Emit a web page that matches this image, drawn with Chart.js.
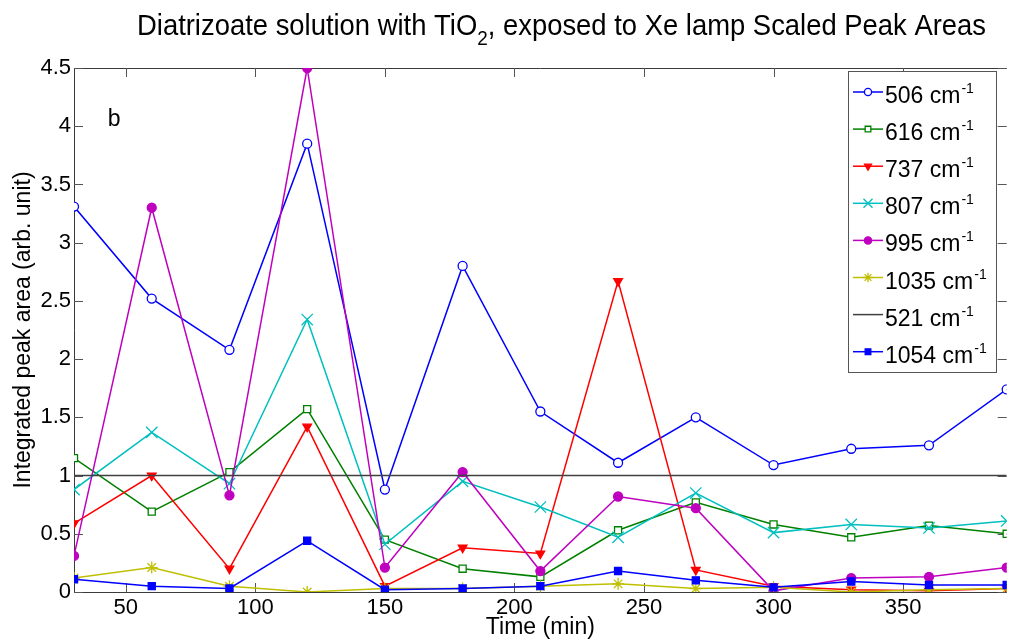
<!DOCTYPE html>
<html>
<head>
<meta charset="utf-8">
<title>Scaled Peak Areas</title>
<script src="https://cdn.jsdelivr.net/npm/chart.js@4.4.1/dist/chart.umd.min.js"></script>
<style>
  html, body { margin: 0; padding: 0; background: #fff; }
  #wrap { width: 1016px; height: 643px; }
</style>
</head>
<body>
<div id="wrap"><canvas id="chart" width="1016" height="643"></canvas></div>
<script>
// ---- data ----
const TIMES   = [30, 60, 90, 120, 150, 180, 210, 240, 270, 300, 330, 360, 390];
const X_TICKS = [50, 100, 150, 200, 250, 300, 350];
const Y_TICKS = [0, 0.5, 1, 1.5, 2, 2.5, 3, 3.5, 4, 4.5];

const PEAK_506  = [3.31, 2.52, 2.08, 3.85, 0.88, 2.80, 1.55, 1.11, 1.50, 1.09, 1.23, 1.26, 1.74];
const PEAK_616  = [1.15, 0.69, 1.03, 1.57, 0.45, 0.20, 0.13, 0.53, 0.77, 0.58, 0.47, 0.57, 0.50];
const PEAK_737  = [0.59, 1.00, 0.20, 1.42, 0.05, 0.38, 0.33, 2.67, 0.19, 0.05, 0.02, 0.01, 0.03];
const PEAK_807  = [0.88, 1.37, 0.93, 2.34, 0.41, 0.95, 0.73, 0.47, 0.85, 0.51, 0.58, 0.55, 0.61];
const PEAK_995  = [0.31, 3.30, 0.83, 4.50, 0.21, 1.03, 0.18, 0.82, 0.72, 0.01, 0.12, 0.13, 0.21];
const PEAK_1035 = [0.12, 0.21, 0.05, 0.00, 0.03, 0.03, 0.05, 0.07, 0.03, 0.04, 0.00, 0.02, 0.03];
const PEAK_521  = [1, 1, 1, 1, 1, 1, 1, 1, 1, 1, 1, 1, 1];
const PEAK_1054 = [0.11, 0.05, 0.03, 0.44, 0.02, 0.03, 0.05, 0.18, 0.10, 0.04, 0.09, 0.06, 0.06];

const FONT = '"Liberation Sans", Arial, Helvetica, sans-serif';

// MATLAB-ish line specs
const SERIES = [
  { label: '506',  data: PEAK_506,  color: '#0000ff', style: 'circle',   radius: 4.5, fill: '#ffffff' },
  { label: '616',  data: PEAK_616,  color: '#008000', style: 'rect',     radius: 5,   fill: '#ffffff' },
  { label: '737',  data: PEAK_737,  color: '#ff0000', style: 'triangle', radius: 5,   fill: '#ff0000', rotation: 180 },
  { label: '807',  data: PEAK_807,  color: '#00bfbf', style: 'crossRot', radius: 8,   fill: '#00bfbf' },
  { label: '995',  data: PEAK_995,  color: '#bf00bf', style: 'circle',   radius: 4.5, fill: '#bf00bf' },
  { label: '1035', data: PEAK_1035, color: '#bfbf00', style: 'star',     radius: 6,   fill: '#bfbf00' },
  { label: '521',  data: PEAK_521,  color: '#404040', style: false,      radius: 0,   fill: '#404040' },
  { label: '1054', data: PEAK_1054, color: '#0000ff', style: 'rect',     radius: 5,   fill: '#0000ff' },
];

const B_LABEL = { x: 43, y: 4.0 };

// ---- plugin: axes box, inside ticks, title, panel letter, legend ----
const matlabDecor = {
  id: 'matlabDecor',

  beforeDatasetsDraw(chart) {
    const { ctx, chartArea: a, scales: { x, y } } = chart;
    ctx.save();
    ctx.strokeStyle = '#3a3a3a';
    ctx.lineWidth = 1;
    ctx.beginPath();
    ctx.moveTo(a.left + 0.5, a.top + 0.5);
    ctx.lineTo(a.right, a.top + 0.5);
    ctx.moveTo(a.left + 0.5, a.top);
    ctx.lineTo(a.left + 0.5, a.bottom + 0.5);
    ctx.lineTo(a.right, a.bottom + 0.5);
    ctx.stroke();

    ctx.strokeStyle = '#555';
    ctx.beginPath();
    for (const v of X_TICKS) {
      const px = Math.round(x.getPixelForValue(v)) + 0.5;
      ctx.moveTo(px, a.bottom); ctx.lineTo(px, a.bottom - 9);
      ctx.moveTo(px, a.top);    ctx.lineTo(px, a.top + 9);
    }
    for (const v of Y_TICKS) {
      const py = Math.round(y.getPixelForValue(v)) + 0.5;
      ctx.moveTo(a.left, py);  ctx.lineTo(a.left + 9, py);
      ctx.moveTo(a.right, py); ctx.lineTo(a.right - 9, py);
    }
    ctx.stroke();
    ctx.restore();
  },

  afterDraw(chart) {
    const { ctx, scales: { x, y } } = chart;
    ctx.save();
    ctx.fillStyle = '#000';
    ctx.textBaseline = 'alphabetic';
    ctx.textAlign = 'left';

    // title with subscript, squeezed to the reference width
    const parts = [
      { t: 'Diatrizoate solution with TiO', size: 29, dy: 0 },
      { t: '2', size: 20, dy: 10 },
      { t: ', exposed to Xe lamp Scaled Peak Areas', size: 29, dy: 0 },
    ];
    let total = 0;
    for (const p of parts) { ctx.font = `${p.size}px ${FONT}`; p.w = ctx.measureText(p.t).width; total += p.w; }
    ctx.save();
    ctx.translate(137, 35);
    ctx.scale(849 / total, 1);
    let cx = 0;
    for (const p of parts) {
      ctx.font = `${p.size}px ${FONT}`;
      ctx.fillText(p.t, cx, p.dy);
      cx += p.w;
    }
    ctx.restore();

    // panel letter
    ctx.font = `23px ${FONT}`;
    ctx.fillText('b', x.getPixelForValue(B_LABEL.x), y.getPixelForValue(B_LABEL.y));

    // legend
    const L = { left: 848, top: 71, right: 996, bottom: 372, row0: 92, gap: 37.1 };
    ctx.fillStyle = '#fff';
    ctx.fillRect(L.left, L.top, L.right - L.left, L.bottom - L.top);
    ctx.strokeStyle = '#555';
    ctx.lineWidth = 1;
    ctx.strokeRect(L.left + 0.5, L.top + 0.5, L.right - L.left, L.bottom - L.top);

    SERIES.forEach((s, i) => {
      const ry = L.row0 + i * L.gap;
      ctx.strokeStyle = s.color;
      ctx.lineWidth = 1.5;
      ctx.beginPath();
      ctx.moveTo(853, ry); ctx.lineTo(883, ry);
      ctx.stroke();
      if (s.style) {
        ctx.fillStyle = s.fill;
        ctx.strokeStyle = s.color;
        ctx.lineWidth = 1.3;
        Chart.helpers.drawPoint(ctx, {
          pointStyle: s.style, radius: s.radius * 0.8, rotation: s.rotation || 0, borderWidth: 1.3,
        }, 868, ry);
      }
      ctx.fillStyle = '#000';
      ctx.font = `23px ${FONT}`;
      const main = `${s.label} cm`;
      ctx.fillText(main, 885, ry + 11);
      const w = ctx.measureText(main).width;
      ctx.font = `14px ${FONT}`;
      ctx.fillText('-1', 885 + w + 1, ry + 1);
    });
    ctx.restore();
  },
};

const datasets = SERIES.map((s, i) => ({
  label: s.label,
  data: TIMES.map((t, k) => ({ x: t, y: s.data[k] })),
  borderColor: s.color,
  borderWidth: 1.5,
  backgroundColor: s.fill,
  pointStyle: s.style,
  pointRadius: s.radius,
  pointRotation: s.rotation || 0,
  pointBorderColor: s.color,
  pointBackgroundColor: s.fill,
  pointBorderWidth: 1.3,
  tension: 0,
  fill: false,
  order: SERIES.length - i,
}));

new Chart(document.getElementById('chart'), {
  type: 'line',
  data: { datasets },
  options: {
    responsive: false,
    devicePixelRatio: 1,
    animation: false,
    events: [],
    layout: { padding: { top: 68, right: 0, bottom: 0, left: 0 } },
    plugins: { legend: { display: false }, tooltip: { enabled: false }, title: { display: false } },
    scales: {
      x: {
        type: 'linear',
        min: 30,
        max: 390,
        afterBuildTicks: s => { s.ticks = X_TICKS.map(v => ({ value: v })); },
        afterFit: s => { s.height = 51; },
        grid: { display: false, drawTicks: false },
        border: { display: false },
        ticks: { color: '#000', font: { family: FONT, size: 22 }, padding: 3, maxRotation: 0, callback: v => String(v) },
        title: { display: true, text: 'Time (min)', color: '#000', font: { family: FONT, size: 23 }, padding: { top: 0, bottom: 2 } },
      },
      y: {
        type: 'linear',
        min: 0,
        max: 4.5,
        afterBuildTicks: s => { s.ticks = Y_TICKS.map(v => ({ value: v })); },
        afterFit: s => { s.width = 74; },
        grid: { display: false, drawTicks: false },
        border: { display: false },
        ticks: { color: '#000', font: { family: FONT, size: 22 }, padding: 3, callback: v => String(v) },
        title: { display: true, text: 'Integrated peak area (arb. unit)', color: '#000', font: { family: FONT, size: 23 }, padding: { top: 10, bottom: 0 } },
      },
    },
  },
  plugins: [matlabDecor],
});
</script>
</body>
</html>
